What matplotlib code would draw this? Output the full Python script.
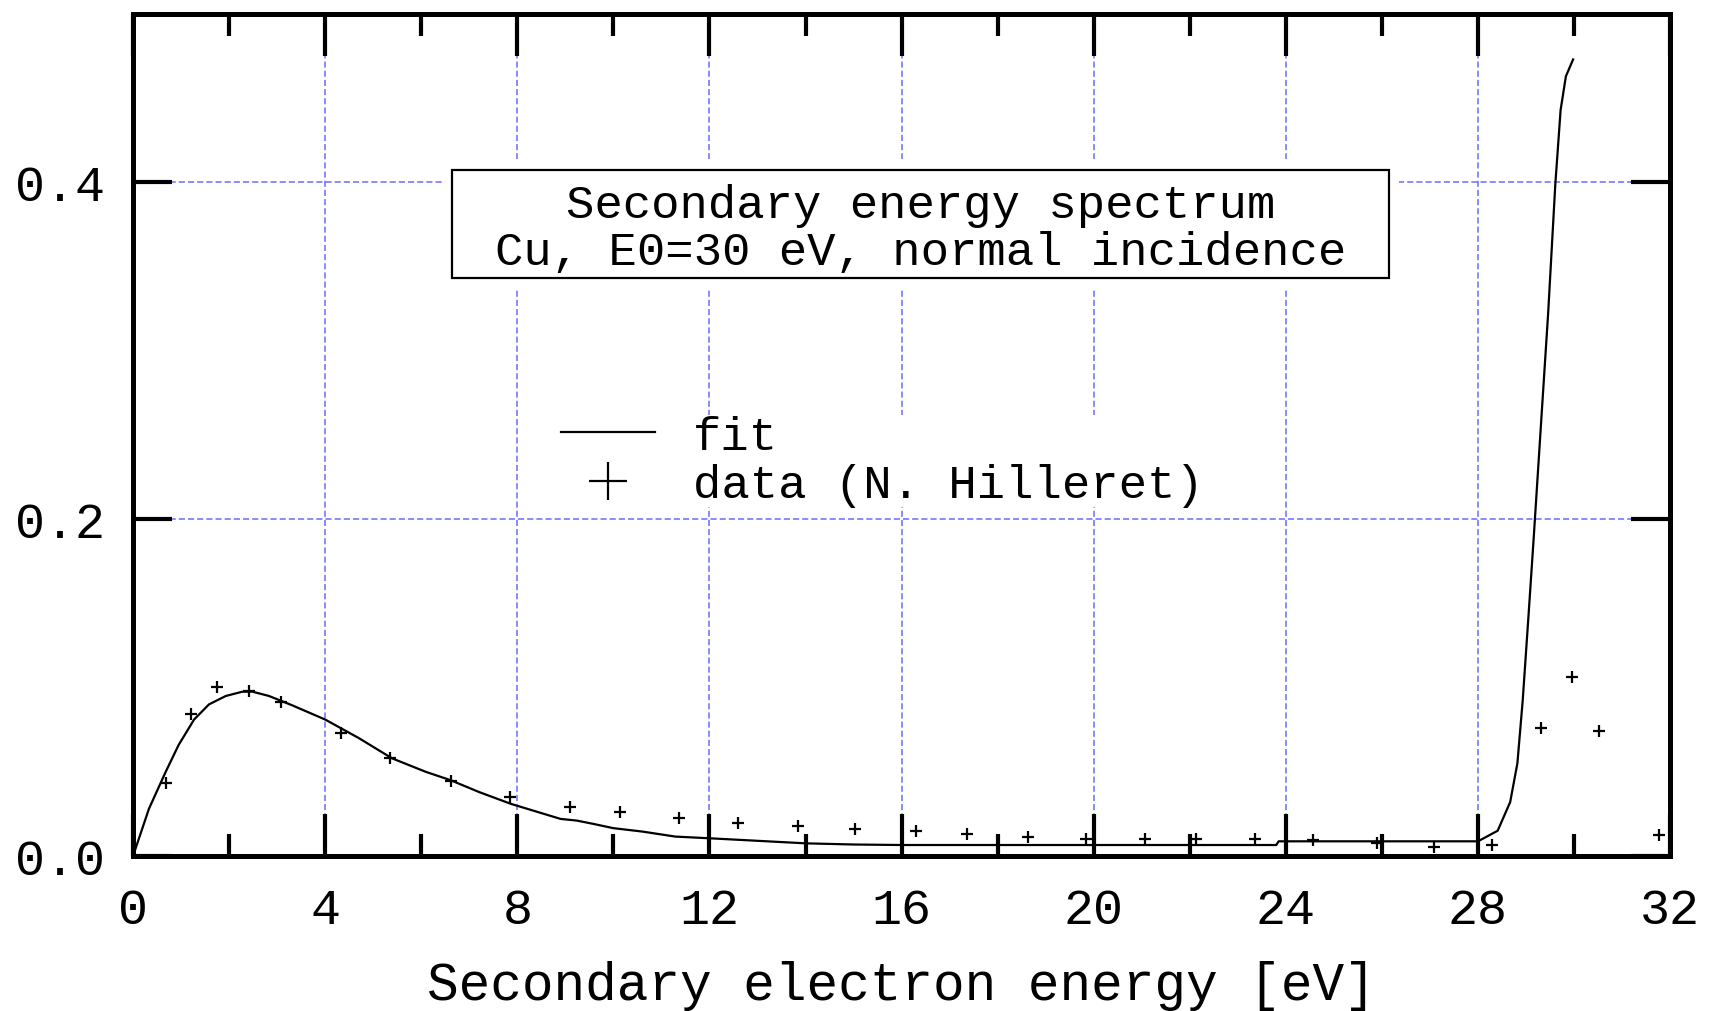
import numpy as np
import matplotlib.pyplot as plt
from matplotlib.patches import Rectangle
from matplotlib.ticker import MultipleLocator, FixedLocator

# Data ----------------------------------------------------------------------------------------------------------------
# fit curve (energy [eV], yield)
fit_e = [0.0, 0.33, 0.68, 0.95, 1.27, 1.58, 1.93, 2.27, 2.48, 2.83, 3.31, 4.0, 4.70, 5.39, 6.09, 6.61, 7.2,
         7.86, 8.90, 9.24, 9.59, 10.0, 10.6, 11.29, 12.0, 13.0, 14.0, 15.0, 16.0, 20.0, 23.8, 23.85, 28.0,
         28.41, 28.67, 28.82, 28.93, 29.05, 29.16, 29.34, 29.46, 29.61, 29.72, 29.83, 29.98]
fit_y = [0.0, 0.028, 0.050, 0.066, 0.081, 0.090, 0.095, 0.0975, 0.0976, 0.095, 0.0895, 0.081, 0.070, 0.058,
         0.050, 0.045, 0.038, 0.031, 0.022, 0.021, 0.019, 0.0165, 0.0145, 0.0115, 0.0105, 0.009, 0.0075,
         0.0068, 0.0065, 0.0065, 0.0065, 0.0087, 0.0087, 0.015, 0.032, 0.055, 0.092, 0.142, 0.189, 0.269,
         0.322, 0.399, 0.443, 0.463, 0.473]

# measured data (N. Hilleret)
data_e = [0.69, 1.21, 1.75, 2.42, 3.07, 4.32, 5.34, 6.61, 7.84, 9.09, 10.13, 11.36, 12.59, 13.84, 15.04,
          16.31, 17.36, 18.64, 19.84, 21.07, 22.13, 23.36, 24.57, 25.89, 27.09, 28.30, 29.31, 29.96, 30.52, 31.77]
data_y = [0.0433, 0.0845, 0.1004, 0.0980, 0.0915, 0.0732, 0.0581, 0.0447, 0.0353, 0.0290, 0.0261, 0.0225,
          0.0196, 0.0175, 0.0161, 0.0147, 0.0131, 0.0115, 0.0101, 0.0101, 0.0101, 0.0101, 0.0097, 0.0077,
          0.0052, 0.0067, 0.0758, 0.1060, 0.0745, 0.0124]

y_ticks = [0.0, 0.2, 0.4]

# Plot ----------------------------------------------------------------------------------------------------------------
plt.rcParams['font.family'] = ['Liberation Mono', 'DejaVu Sans Mono']

fig = plt.figure(figsize=(17.17, 10.12), dpi=100)
ax = fig.add_axes([0.0775, 0.1532, 0.8952, 0.832])

ax.plot(fit_e, fit_y, color="black", lw=1.6, label="fit", zorder=3)
ax.plot(data_e, data_y, linestyle="none", marker="+", ms=9, mew=1.6, color="black",
        label="data (N. Hilleret)", zorder=3)

ax.set_xlim(0, 32)
ax.set_ylim(0, 0.5)
ax.xaxis.set_major_locator(MultipleLocator(4))
ax.xaxis.set_minor_locator(MultipleLocator(2))
ax.yaxis.set_major_locator(FixedLocator(y_ticks))
ax.set_yticklabels(["%.1f" % v for v in y_ticks])

for s in ax.spines.values():
    s.set_linewidth(3.6)

ax.tick_params(which="both", direction="in", top=True, right=True, width=3, labelsize=36)
ax.tick_params(axis="x", which="major", length=30, pad=22)
ax.tick_params(axis="x", which="minor", length=16)
ax.tick_params(axis="y", which="major", length=28, pad=20)

ax.grid(which="major", color="#6b6bff", linestyle=(0, (4, 2)), lw=1.1)
ax.set_axisbelow(True)

ax.set_xlabel("Secondary electron energy [eV]", fontsize=38, labelpad=20)

# title box: white margin, then framed box
ax.add_patch(Rectangle((6.43, 0.337), 19.92, 0.077, facecolor="white", edgecolor="none", zorder=5))
ax.add_patch(Rectangle((6.63, 0.3432), 19.52, 0.064, facecolor="white", edgecolor="black", lw=1.6, zorder=5))
ax.text(16.39, 0.3726, "Secondary energy spectrum\nCu, E0=30 eV, normal incidence",
        ha="center", va="center", fontsize=34, linespacing=1.08, zorder=6)

leg = ax.legend(loc="center left", bbox_to_anchor=(0.263, 0.469), fontsize=34, frameon=True,
                fancybox=False, edgecolor="none", facecolor="white", framealpha=1, borderpad=0.0,
                handlelength=2.0, handletextpad=0.8, labelspacing=0.1, markerscale=3.0)

plt.savefig("out.png", dpi=100)
